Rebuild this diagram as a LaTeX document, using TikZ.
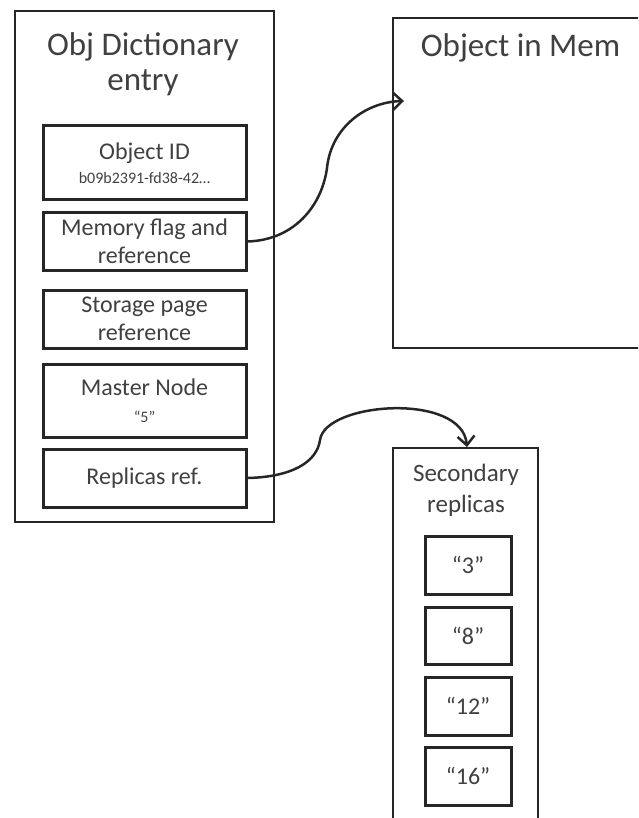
\documentclass[tikz,border=0pt]{standalone}
\usepackage{fontspec}
\setmainfont{Carlito}
\usetikzlibrary{arrows.meta}
\definecolor{linegray}{HTML}{262626}
\definecolor{textgray}{HTML}{404040}
\begin{document}
\begin{tikzpicture}[x=1pt, y=-1pt]
            \tikzstyle{every node}=[rectangle, inner sep=0pt, text=textgray, align=center]
            \tikzstyle{outer}=[draw=linegray, line width=1.5pt]
            \tikzstyle{inbox}=[draw=linegray, line width=3pt, minimum width=203pt, font=\fontsize{24}{28}\selectfont]
            \tikzstyle{repbox}=[draw=linegray, line width=3pt, minimum width=86pt, minimum height=58pt, font=\fontsize{24}{28}\selectfont]
            \tikzstyle{title}=[font=\fontsize{33}{35}\selectfont]
            \tikzstyle{link}=[draw=linegray, line width=2.5pt, -{Straight Barb[length=9pt, width=17pt]}]

            \useasboundingbox (0,0) rectangle (638,818);
            \clip (0,0) rectangle (638,818);

            % dictionary entry
            \node[outer, minimum width=259pt, minimum height=511pt] (dict) at (144.5,266.5) {};
            \node[title] (dicttitle) at (143,64) {Obj Dictionary\\entry};
            \node[inbox, minimum height=74pt] (objid) at (144.5,163) {Object ID\\[-4pt]{\fontsize{16}{18}\selectfont b09b2391-fd38-42…}};
            \node[inbox, minimum height=57pt] (memflag) at (144.5,241.5) {Memory flag and\\reference};
            \node[inbox, minimum height=58pt] (storage) at (144.5,319) {Storage page\\reference};
            \node[inbox, minimum height=73pt] (master) at (144.5,400.5) {Master Node\\[-1pt]{\fontsize{16}{18}\selectfont “5”}};
            \node[inbox, minimum height=58pt] (replref) at (144.5,478) {Replicas ref.};

            % object in memory
            \node[outer, minimum width=307pt, minimum height=330pt] (mem) at (546.5,183) {};
            \node[title, anchor=base] (memtitle) at (520.5,57) {Object in Mem};

            % secondary replicas
            \node[outer, minimum width=145pt, minimum height=402pt] (sec) at (465.5,649) {};
            \node[font=\fontsize{25}{31}\selectfont] (sectitle) at (466,490) {Secondary\\replicas};
            \node[repbox] (rep3) at (468,565) {“3”};
            \node[repbox, minimum height=57pt] (rep8) at (468,635.5) {“8”};
            \node[repbox] (rep12) at (468,706) {“12”};
            \node[repbox] (rep16) at (468,776) {“16”};

            \coordinate (memin) at (404,101);
            \coordinate (secin) at (467,447);

            \draw[link] (memflag.east) .. controls (295,240) and (322,205) .. (327,168)
                .. controls (331,128) and (365,102) .. (memin);
            \draw[link] (replref.east) .. controls (292,477) and (317,462) .. (320,440)
                .. controls (325,402) and (462,392) .. (secin);
        \end{tikzpicture}
\end{document}
